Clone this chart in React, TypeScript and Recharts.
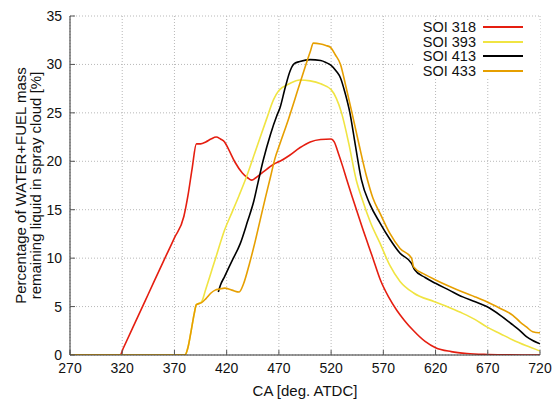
import React from 'react';
import { LineChart, Line, XAxis, YAxis, CartesianGrid, Legend } from 'recharts';

const xTicks = [270, 320, 370, 420, 470, 520, 570, 620, 670, 720];
const yTicks = [0, 5, 10, 15, 20, 25, 30, 35];

const soi318Ca = [270, 318, 321, 330, 345, 360, 370, 379, 383, 387, 391, 395, 400, 405, 410, 414, 418, 422, 428, 435, 440, 444, 448, 455, 465, 471, 480, 490, 500, 510, 520, 523, 527, 531, 535, 540, 550, 560, 567, 575, 583, 590, 599, 610, 620, 635, 650, 670, 690, 720];
const soi318Val = [0, 0, 0.7, 2.8, 6.3, 9.8, 12.1, 14.3, 16.5, 19.3, 21.8, 21.8, 22.0, 22.3, 22.5, 22.3, 22.0, 21.2, 19.9, 18.8, 18.3, 18.05, 18.3, 18.9, 19.7, 20.0, 20.6, 21.4, 22.0, 22.25, 22.3, 22.0, 20.8, 19.5, 18.1, 16.4, 13.1, 10.0, 7.8, 6.0, 4.6, 3.6, 2.5, 1.4, 0.75, 0.35, 0.15, 0.05, 0.01, 0];

const soi393Ca = [270, 380, 383, 386, 389, 391, 396, 400, 405, 410, 418, 425, 432, 439, 448, 458, 465, 470, 480, 490, 500, 510, 520, 525, 530, 537, 544, 550, 558, 567, 576, 586, 599, 619, 633, 646, 658, 669, 682, 694, 707, 719, 720];
const soi393Val = [0, 0, 0.8, 2.5, 4.3, 5.2, 5.5, 6.8, 8.5, 10.2, 12.9, 14.7, 16.5, 18.4, 21.2, 24.3, 26.4, 27.3, 28.0, 28.4, 28.3, 28.0, 27.4, 26.5, 25.0, 21.8, 18.1, 16.0, 13.6, 11.5, 9.3, 7.6, 6.4, 5.5, 4.9, 4.3, 3.65, 2.9, 2.2, 1.55, 0.95, 0.45, 0.4];

const soi413Ca = [412, 414, 418, 425, 433, 440, 446, 450, 455, 462, 468, 471, 476, 481, 485, 490, 500, 510, 515, 520, 525, 529, 533, 538, 543, 549, 557, 567, 576, 586, 597, 600, 610, 620, 633, 646, 658, 669, 682, 694, 701, 707, 713, 719, 720];
const soi413Val = [6.5, 7.2, 8.1, 9.7, 11.5, 13.8, 15.9, 17.8, 20.1, 22.8, 24.7, 25.5, 27.6, 29.4, 30.1, 30.3, 30.5, 30.4, 30.2, 29.9, 29.3, 28.6, 27.2, 25.0, 21.8, 18.1, 15.6, 13.6, 12.0, 10.5, 9.45, 8.8, 8.0, 7.4, 6.7, 6.0, 5.5, 5.0, 4.1, 3.1, 2.5, 1.9, 1.5, 1.2, 1.15];

const soi433Ca = [270, 380, 383, 386, 389, 391, 396, 400, 405, 409, 413, 418, 425, 432, 436, 442, 447, 452, 457, 462, 466, 471, 479, 490, 500, 503, 510, 515, 519, 524, 529, 534, 540, 547, 554, 560, 567, 576, 586, 597, 599, 610, 620, 633, 646, 658, 669, 682, 694, 701, 707, 713, 719, 720];
const soi433Val = [0, 0, 0.8, 2.5, 4.3, 5.2, 5.4, 5.8, 6.4, 6.7, 6.8, 6.9, 6.7, 6.5, 7.3, 9.5, 11.6, 13.9, 16.2, 18.4, 20.2, 21.8, 24.3, 28.0, 31.3, 32.2, 32.1, 31.95, 31.8, 31.0, 30.0, 27.8, 25.0, 21.6, 18.4, 16.2, 14.6, 12.6, 11.0, 10.0, 9.1, 8.3, 7.75, 7.1, 6.5, 6.0, 5.5, 4.8, 4.1, 3.4, 2.9, 2.4, 2.3, 2.3];

const seriesNames = ['SOI 318', 'SOI 393', 'SOI 413', 'SOI 433'];
const seriesColors = ['#e51e10', '#f0e442', '#000000', '#e69f00'];

const toPoints = (ca: number[], val: number[]) => ca.map((c, i) => ({ ca: c, v: val[i] }));

const series = [
  toPoints(soi318Ca, soi318Val),
  toPoints(soi393Ca, soi393Val),
  toPoints(soi413Ca, soi413Val),
  toPoints(soi433Ca, soi433Val),
].map((data, i) => ({ name: seriesNames[i], color: seriesColors[i], data }));

const FONT = '"Liberation Sans", Arial, Helvetica, sans-serif';

const YLabel = (props: any) => {
  const vb = props.viewBox || {};
  const cy = vb.y + vb.height / 2;
  const x1 = 26;
  const x2 = 41;
  return (
    <g>
      <text x={x1} y={cy} textAnchor="middle" transform={`rotate(-90, ${x1}, ${cy})`} fontSize={15} fontFamily={FONT} fill="#111">
        Percentage of WATER+FUEL mass
      </text>
      <text x={x2} y={cy} textAnchor="middle" transform={`rotate(-90, ${x2}, ${cy})`} fontSize={15} fontFamily={FONT} fill="#111">
        remaining liquid in spray cloud [%]
      </text>
    </g>
  );
};

const XLabel = (props: any) => {
  const vb = props.viewBox || {};
  const cx = vb.x + vb.width / 2;
  return (
    <text x={cx} y={396} textAnchor="middle" fontSize={15} fontFamily={FONT} fill="#111">
      CA [deg. ATDC]
    </text>
  );
};

const LegendBox = () => (
  <div style={{ background: '#fff', width: 125, height: 58, fontFamily: FONT, fontSize: 14.5, color: '#111' }}>
    {series.map((s) => (
      <div key={s.name} style={{ display: 'flex', alignItems: 'center', height: 14.5 }}>
        <span style={{ width: 61, textAlign: 'right', lineHeight: '14.5px', whiteSpace: 'nowrap' }}>{s.name}</span>
        <span style={{ display: 'inline-block', marginLeft: 7, width: 40, height: 2, background: s.color }} />
      </div>
    ))}
  </div>
);

export default function App() {
  const tickStyle = { fontSize: 14, fontFamily: FONT, fill: '#111' };
  return (
    <div style={{ position: 'absolute', left: 0, top: 0 }}>
      <LineChart width={553} height={400} margin={{ top: 16, right: 13, bottom: 0, left: 0 }}>
        <CartesianGrid stroke="#b8b8b8" strokeDasharray="1 2" />
        <XAxis
          type="number"
          dataKey="ca"
          domain={[270, 720]}
          ticks={xTicks}
          allowDataOverflow
          height={45}
          tickSize={-5}
          tickMargin={13}
          tick={tickStyle}
          stroke="#333"
          tickLine={{ stroke: '#555' }}
          label={<XLabel />}
        />
        <XAxis
          xAxisId="top"
          orientation="top"
          type="number"
          dataKey="ca"
          domain={[270, 720]}
          ticks={xTicks}
          allowDataOverflow
          height={0}
          tickSize={-5}
          tick={false}
          stroke="#333"
          tickLine={{ stroke: '#555' }}
        />
        <YAxis
          type="number"
          domain={[0, 35]}
          ticks={yTicks}
          allowDataOverflow
          width={70}
          tickSize={-5}
          tickMargin={13}
          tick={tickStyle}
          stroke="#333"
          tickLine={{ stroke: '#555' }}
          label={<YLabel />}
        />
        <YAxis
          yAxisId="right"
          orientation="right"
          type="number"
          domain={[0, 35]}
          ticks={yTicks}
          allowDataOverflow
          width={0}
          tickSize={-5}
          tick={false}
          stroke="#333"
          tickLine={{ stroke: '#555' }}
        />
        <Legend
          layout="horizontal"
          verticalAlign="middle"
          align="center"
          content={<LegendBox />}
          wrapperStyle={{ position: 'absolute', left: 415, top: 20, width: 125, height: 58 }}
        />
        {series.map((s) => (
          <Line
            key={s.name}
            data={s.data}
            dataKey="v"
            name={s.name}
            type="monotone"
            stroke={s.color}
            strokeWidth={1.6}
            dot={false}
            activeDot={false}
            isAnimationActive={false}
          />
        ))}
      </LineChart>
    </div>
  );
}
